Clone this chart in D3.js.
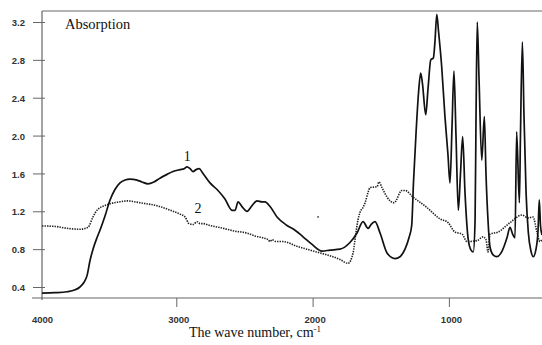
<!DOCTYPE html>
<html>
<head>
<meta charset="utf-8">
<script src="https://cdn.jsdelivr.net/npm/d3@7"></script>
<style>
  html, body { margin: 0; padding: 0; background: #fff; }
  svg { display: block; }
</style>
</head>
<body>
<svg id="chart" width="542" height="345"></svg>
<script>
// ---- data (wave number cm^-1, absorption) ----
const xTicks = [4000, 3000, 2000, 1000];
const yTicks = [0.4, 0.8, 1.2, 1.6, 2.0, 2.4, 2.8, 3.2];

const curve1Wave = [3985,3890,3802,3743,3707,3677,3655,3633,3611,3582,3560,3523,3486,3450,3413,3376,3340,3288,3252,3208,3164,3120,3068,3024,2973,2943,2921,2899,2877,2855,2833,2804,2753,2701,2643,2591,2569,2547,2518,2481,2444,2408,2371,2349,2312,2261,2188,2129,2070,2004,1931,1872,1799,1726,1674,1630,1593,1571,1542,1505,1454,1395,1359,1322,1293,1273,1260,1241,1223,1207,1194,1170,1153,1133,1114,1102,1089,1076,1053,1029,1007,992,977,963,948,931,915,899,882,858,838,821,808,801,792,779,759,740,728,713,698,676,649,610,574,552,530,515,503,483,475,461,449,434,417,398,381,361,346,337,328,317];
const curve1Abs  = [0.335,0.34,0.35,0.37,0.40,0.45,0.52,0.68,0.80,0.92,1.00,1.15,1.32,1.43,1.50,1.53,1.54,1.53,1.51,1.49,1.51,1.55,1.59,1.62,1.64,1.65,1.67,1.65,1.62,1.64,1.65,1.60,1.50,1.43,1.33,1.21,1.21,1.30,1.25,1.20,1.26,1.31,1.30,1.30,1.25,1.14,1.05,1.00,0.93,0.85,0.78,0.79,0.80,0.87,0.97,1.09,1.02,1.06,1.09,0.97,0.76,0.70,0.72,0.80,0.92,1.05,1.50,2.03,2.45,2.66,2.55,2.22,2.50,2.80,2.82,3.00,3.28,3.10,2.73,2.20,1.80,1.50,2.10,2.68,2.00,1.21,1.60,1.99,1.40,0.90,0.79,0.77,1.10,2.20,3.20,2.60,1.74,2.20,1.60,1.10,0.82,0.74,0.72,0.78,0.92,1.03,0.95,0.92,2.04,1.29,2.00,2.99,2.20,1.40,0.97,0.78,0.72,0.80,1.00,1.32,1.05,0.95];

const curve2Wave = [3985,3890,3802,3707,3648,3611,3582,3508,3413,3362,3266,3120,3024,2973,2936,2907,2877,2848,2826,2804,2753,2657,2569,2481,2423,2364,2327,2312,2298,2268,2217,2114,2019,1946,1872,1799,1740,1703,1689,1667,1652,1630,1615,1593,1579,1527,1513,1491,1454,1403,1344,1322,1263,1161,1065,1006,955,904,867,794,750,728,713,698,640,552,464,420,383,354,332,317];
const curve2Abs  = [1.045,1.04,1.02,1.01,1.03,1.14,1.21,1.27,1.30,1.31,1.29,1.25,1.20,1.17,1.14,1.07,1.06,1.09,1.07,1.07,1.05,1.02,0.99,0.97,0.94,0.92,0.90,0.88,0.90,0.88,0.88,0.83,0.79,0.76,0.73,0.69,0.65,0.76,0.90,1.11,1.19,1.24,1.29,1.40,1.45,1.46,1.51,1.45,1.35,1.29,1.42,1.42,1.35,1.24,1.12,1.08,0.98,0.96,0.88,0.89,0.93,0.90,0.77,0.96,0.98,1.08,1.16,1.13,1.14,0.98,0.88,0.90];

const strayWave = [1960];
const strayAbs = [1.14];

const seriesLabels = ["1", "2"];
const labelWave = [2920, 2840];
const labelAbs  = [1.67, 1.12];

// ---- drawing ----
const svg = d3.select("#chart");
const x = d3.scaleLinear().domain([4000, 317]).range([40, 542]);
const y = d3.scaleLinear().domain([0.4, 3.2]).range([287, 22]);

const axisColor = "#666";
const plotTop = 11, plotBottom = 298, yAxisX = 42;

// frame: top border and y axis line
svg.append("line").attr("x1", yAxisX).attr("x2", 542).attr("y1", plotTop).attr("y2", plotTop)
  .attr("stroke", axisColor).attr("stroke-width", 1);
svg.append("line").attr("x1", yAxisX).attr("x2", yAxisX).attr("y1", plotTop).attr("y2", 300)
  .attr("stroke", axisColor).attr("stroke-width", 1.2);
// x axis line
svg.append("line").attr("x1", 32).attr("x2", 542).attr("y1", plotBottom).attr("y2", plotBottom)
  .attr("stroke", axisColor).attr("stroke-width", 1.2);

// x axis ticks
const xAxis = d3.axisBottom(x).tickValues(xTicks).tickSize(9).tickSizeOuter(0).tickFormat(d3.format("d"));
const gx = svg.append("g").attr("transform", `translate(0,${plotBottom})`).call(xAxis);
gx.select(".domain").remove();
gx.selectAll(".tick line").attr("stroke", axisColor).attr("stroke-width", 1)
  .attr("display", d => d === 4000 ? "none" : null);
gx.selectAll(".tick text").attr("y", 22).attr("dy", "0.35em").attr("dx", 2)
  .attr("font-family", "'Liberation Sans', Arial, sans-serif").attr("font-weight", "bold")
  .attr("font-size", 9.5).attr("fill", "#333");

// y axis ticks (crossing)
const yAxis = d3.axisLeft(y).tickValues(yTicks).tickSize(0).tickFormat(d3.format(".1f"));
const gy = svg.append("g").attr("transform", `translate(${yAxisX},0)`).call(yAxis);
gy.select(".domain").remove();
gy.selectAll(".tick").append("line").attr("x1", -9).attr("x2", 3)
  .attr("stroke", axisColor).attr("stroke-width", 1);
gy.selectAll(".tick text").attr("x", -17).attr("dy", "0.38em")
  .attr("font-family", "'Liberation Sans', Arial, sans-serif").attr("font-weight", "bold")
  .attr("font-size", 9.5).attr("fill", "#333");

// curves
const line = d3.line().x(d => x(d[0])).y(d => y(d[1])).curve(d3.curveMonotoneX);
const c1 = curve1Wave.map((w, i) => [w, curve1Abs[i]]);
const c2 = curve2Wave.map((w, i) => [w, curve2Abs[i]]);

svg.append("path").datum(c2).attr("d", line).attr("fill", "none")
  .attr("stroke", "#222").attr("stroke-width", 1.6).attr("stroke-dasharray", "1.4 1.1");
svg.append("path").datum(c1).attr("d", line).attr("fill", "none")
  .attr("stroke", "#111").attr("stroke-width", 1.7).attr("stroke-linejoin", "round");

svg.selectAll("circle.stray").data(strayWave.map((w, i) => [w, strayAbs[i]])).enter()
  .append("circle").attr("class", "stray").attr("cx", d => x(d[0])).attr("cy", d => y(d[1]))
  .attr("r", 0.9).attr("fill", "#444");

// series labels
svg.selectAll("text.slabel").data(seriesLabels).enter().append("text").attr("class", "slabel")
  .attr("x", (d, i) => x(labelWave[i])).attr("y", (d, i) => y(labelAbs[i]) - 6)
  .attr("text-anchor", "middle")
  .attr("font-family", "'Liberation Serif', 'Times New Roman', serif").attr("font-size", 14)
  .attr("fill", "#111").text(d => d);

// titles
svg.append("text").attr("x", 65).attr("y", 29)
  .attr("font-family", "'Liberation Serif', 'Times New Roman', serif").attr("font-size", 14.5)
  .attr("fill", "#111").text("Absorption");

const t = svg.append("text").attr("x", 255).attr("y", 337).attr("text-anchor", "middle")
  .attr("font-family", "'Liberation Serif', 'Times New Roman', serif").attr("font-size", 14)
  .attr("fill", "#111");
t.append("tspan").text("The wave number, cm");
t.append("tspan").attr("dy", -5).attr("font-size", 9).text("-1");
</script>
</body>
</html>
